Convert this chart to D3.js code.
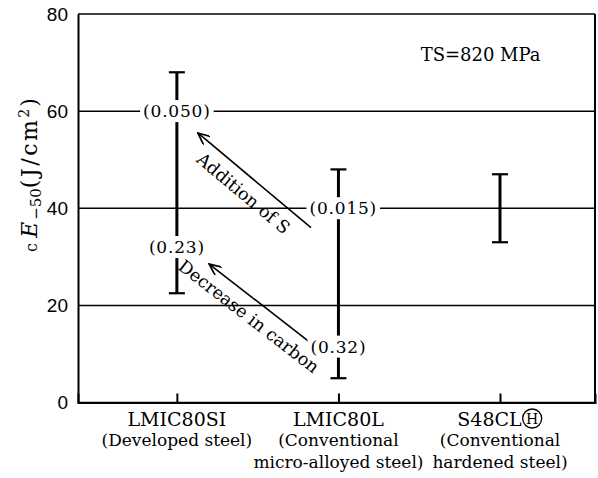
<!DOCTYPE html>
<html>
<head>
<meta charset="utf-8">
<script src="https://cdn.jsdelivr.net/npm/d3@7"></script>
<style>
  body { margin: 0; background: #fff; }
  text { fill: #000; }
</style>
</head>
<body>
<div class="chart"></div>
<script>
// --- Data ---
const categories = ["LMIC80SI", "LMIC80L", "S48CL"];
const circledMark = [false, false, true];
const subLabels = [
  ["(Developed steel)"],
  ["(Conventional", "micro-alloyed steel)"],
  ["(Conventional", "hardened steel)"]
];
const lowValues = [22.5, 5, 33];
const highValues = [68, 48, 47];
const yTicks = [0, 20, 40, 60, 80];

// content labels on the bars (index along categories, value)
const noteText = ["(0.050)", "(0.23)", "(0.015)", "(0.32)"];
const noteIndex = [0, 0, 1.03, 1.0];
const noteValue = [60, 32, 40, 11.5];

// arrows
const arrowText = ["Addition of S", "Decrease in carbon"];
const arrowFrom = [[0.83, 36], [0.82, 12.5]];
const arrowTo = [[0.13, 55.5], [0.2, 28.5]];

// --- Config ---
const width = 598;
const height = 478;
const margin = { top: 14, right: 3, bottom: 75, left: 78 };
const serif = "'DejaVu Serif', serif";

const svg = d3.select(".chart")
  .append("svg")
  .attr("width", width)
  .attr("height", height);

const x = d3.scalePoint()
  .domain(categories)
  .range([margin.left, width - margin.right])
  .padding(0.6)
  .align(0.51);

const xi = d3.scaleLinear()
  .domain([0, categories.length - 1])
  .range([x(categories[0]), x(categories[categories.length - 1])]);

const y = d3.scaleLinear()
  .domain([0, 80])
  .range([height - margin.bottom - 0.5, margin.top]);

svg.append("defs").append("marker")
  .attr("id", "head")
  .attr("viewBox", "0 0 12 10")
  .attr("refX", 11)
  .attr("refY", 5)
  .attr("markerWidth", 13)
  .attr("markerHeight", 11)
  .attr("markerUnits", "userSpaceOnUse")
  .attr("orient", "auto")
  .append("path")
  .attr("d", "M0,0 L11,5 L0,10")
  .attr("fill", "none")
  .attr("stroke", "#000")
  .attr("stroke-width", 1.6);

// --- Grid lines ---
svg.append("g")
  .selectAll("line")
  .data(yTicks)
  .join("line")
  .attr("x1", margin.left)
  .attr("x2", width - margin.right)
  .attr("y1", d => y(d))
  .attr("y2", d => y(d))
  .attr("stroke", "#000")
  .attr("stroke-width", 1.5);

// --- Y axis ---
const yAxis = svg.append("g")
  .attr("transform", `translate(${margin.left},0)`)
  .call(d3.axisLeft(y).tickValues(yTicks).tickSize(0).tickPadding(10));
yAxis.select(".domain").attr("stroke", "#000").attr("stroke-width", 2);
yAxis.selectAll("text")
  .attr("font-family", "'Liberation Sans', Arial, sans-serif")
  .attr("font-size", 19)
  .attr("fill", "#000");

// right border
svg.append("line")
  .attr("x1", width - margin.right).attr("x2", width - margin.right)
  .attr("y1", y(80)).attr("y2", y(0))
  .attr("stroke", "#000").attr("stroke-width", 2);

// --- X axis ---
const xAxis = svg.append("g")
  .attr("transform", `translate(0,${y(0)})`)
  .call(d3.axisTop(x).tickSize(9).tickFormat(""));
xAxis.select(".domain").attr("stroke", "#000").attr("stroke-width", 2);
xAxis.selectAll(".tick line").attr("stroke", "#000").attr("stroke-width", 2);

const catLabels = svg.append("g")
  .selectAll("text")
  .data(categories)
  .join("text")
  .attr("x", d => x(d))
  .attr("y", y(0) + 23)
  .attr("text-anchor", "middle")
  .attr("font-family", serif)
  .attr("font-size", 19)
  .text(d => d);

// circled H after S48CL
catLabels.filter((d, i) => circledMark[i]).each(function(d) {
  const len = this.getComputedTextLength();
  const r = 9.5;
  d3.select(this).attr("x", x(d) - r - 1);
  const cx = x(d) - r - 1 + len / 2 + r + 1;
  const cy = y(0) + 23 - 7;
  svg.append("circle")
    .attr("cx", cx).attr("cy", cy).attr("r", r)
    .attr("fill", "none").attr("stroke", "#000").attr("stroke-width", 1.3);
  svg.append("text")
    .attr("x", cx).attr("y", cy + 5)
    .attr("text-anchor", "middle")
    .attr("font-family", serif)
    .attr("font-size", 14)
    .text("H");
});

svg.append("g")
  .selectAll("text")
  .data(subLabels)
  .join("text")
  .attr("font-family", serif)
  .attr("font-size", 17)
  .attr("text-anchor", "middle")
  .each(function(lines, i) {
    d3.select(this).selectAll("tspan")
      .data(lines)
      .join("tspan")
      .attr("x", x(categories[i]))
      .attr("y", (d, j) => y(0) + 43 + j * 22)
      .text(d => d);
  });

// --- Error bars ---
const bars = svg.append("g")
  .selectAll("g")
  .data(categories)
  .join("g");

bars.append("line")
  .attr("x1", d => x(d)).attr("x2", d => x(d))
  .attr("y1", (d, i) => y(highValues[i]))
  .attr("y2", (d, i) => y(lowValues[i]))
  .attr("stroke", "#000").attr("stroke-width", 3);

bars.append("line")
  .attr("x1", d => x(d) - 8).attr("x2", d => x(d) + 8)
  .attr("y1", (d, i) => y(highValues[i]))
  .attr("y2", (d, i) => y(highValues[i]))
  .attr("stroke", "#000").attr("stroke-width", 2.2);

bars.append("line")
  .attr("x1", d => x(d) - 8).attr("x2", d => x(d) + 8)
  .attr("y1", (d, i) => y(lowValues[i]))
  .attr("y2", (d, i) => y(lowValues[i]))
  .attr("stroke", "#000").attr("stroke-width", 2.2);

// --- Arrows ---
svg.append("g")
  .selectAll("line")
  .data(arrowText)
  .join("line")
  .attr("x1", (d, i) => xi(arrowFrom[i][0]))
  .attr("y1", (d, i) => y(arrowFrom[i][1]))
  .attr("x2", (d, i) => xi(arrowTo[i][0]))
  .attr("y2", (d, i) => y(arrowTo[i][1]))
  .attr("stroke", "#000")
  .attr("stroke-width", 1.6)
  .attr("marker-end", "url(#head)");

svg.append("g")
  .selectAll("text")
  .data(arrowText)
  .join("text")
  .attr("font-family", serif)
  .attr("font-size", 17.5)
  .attr("text-anchor", "middle")
  .attr("transform", (d, i) => {
    const x1 = xi(arrowFrom[i][0]), y1 = y(arrowFrom[i][1]);
    const x2 = xi(arrowTo[i][0]), y2 = y(arrowTo[i][1]);
    const ang = Math.atan2(y1 - y2, x1 - x2);
    const mx = (x1 + x2) / 2 - Math.sin(ang) * 17;
    const my = (y1 + y2) / 2 + Math.cos(ang) * 17;
    return `translate(${mx},${my}) rotate(${ang * 180 / Math.PI})`;
  })
  .attr("dy", "0.35em")
  .text(d => d);

// --- Composition notes (white boxed to break lines) ---
const notes = svg.append("g")
  .selectAll("g")
  .data(noteText)
  .join("g")
  .attr("transform", (d, i) => `translate(${xi(noteIndex[i])},${y(noteValue[i])})`);

const noteLabels = notes.append("text")
  .attr("text-anchor", "middle")
  .attr("dy", "0.35em")
  .attr("font-family", serif)
  .attr("font-size", 17)
  .attr("letter-spacing", 0.8)
  .text(d => d);

noteLabels.each(function() {
  const b = this.getBBox();
  d3.select(this.parentNode).insert("rect", "text")
    .attr("x", b.x - 3).attr("y", b.y - 1)
    .attr("width", b.width + 6).attr("height", b.height + 2)
    .attr("fill", "#fff");
});

// --- Annotations ---
svg.append("text")
  .attr("x", xi(1.88))
  .attr("y", y(70.3))
  .attr("text-anchor", "middle")
  .attr("font-family", serif)
  .attr("font-size", 18)
  .text("TS=820 MPa");

const yLabel = svg.append("text")
  .attr("transform", "translate(37,175) rotate(-90)")
  .attr("text-anchor", "middle")
  .attr("font-family", serif)
  .attr("font-size", 22)
  .attr("fill", "#000");
yLabel.append("tspan").attr("font-size", 16).text("c ");
yLabel.append("tspan").attr("font-style", "italic").text("E");
yLabel.append("tspan").attr("font-size", 15).attr("dy", 4).attr("dx", 2).text("\u221250");
yLabel.append("tspan").attr("dy", -4).attr("letter-spacing", 2.5).text("(J/cm");
yLabel.append("tspan").attr("font-size", 14).attr("dy", -8).text("2");
yLabel.append("tspan").attr("dy", 8).attr("dx", 2).text(")");
</script>
</body>
</html>
